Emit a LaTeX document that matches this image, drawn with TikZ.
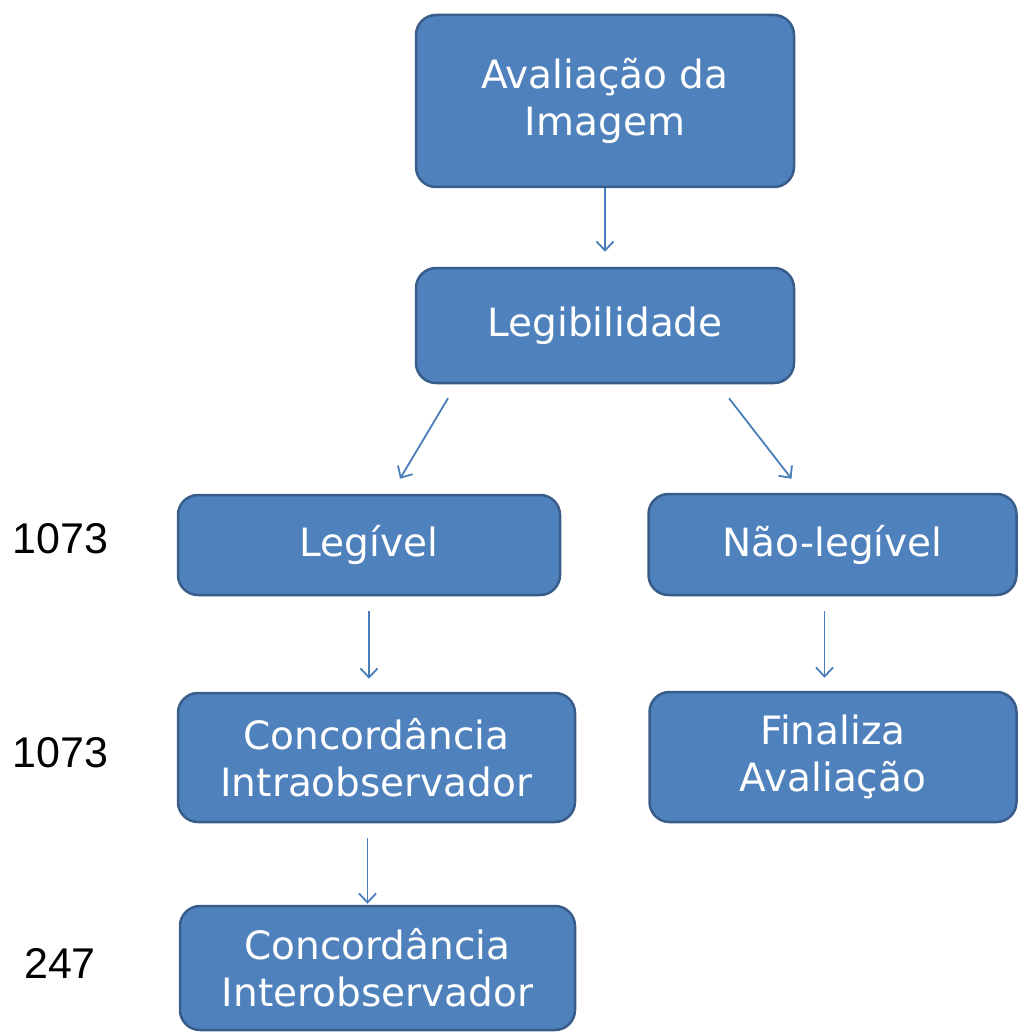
\documentclass[tikz,border=0pt]{standalone}
\usepackage{fontspec}
\setmainfont{Liberation Sans}
\newfontfamily\boxfont{DejaVu Sans}
\newfontfamily\numfont{Liberation Sans}
\usetikzlibrary{arrows.meta,calc}
\definecolor{boxfill}{HTML}{4F81BD}
\definecolor{boxline}{HTML}{385D8A}
\definecolor{arrowcol}{HTML}{4A7EBB}
\tikzset{
  box/.style={draw=boxline, line width=2.5pt, fill=boxfill, rounded corners=20pt,
    text=white, align=center, inner sep=0pt,
    font=\boxfont\fontsize{39}{47}\selectfont},
  num/.style={text=black, inner sep=0pt, font=\numfont\fontsize{43}{50}\selectfont},
  arr/.style={draw=arrowcol, line width=1.8pt,
    -{Straight Barb[length=9pt,width=17pt,line width=1.8pt]}}
}
\begin{document}
\begin{tikzpicture}[x=1pt,y=-1pt]
\useasboundingbox (0,0) rectangle (1019,1032);
% boxes
\node[box, minimum width=378pt, minimum height=172pt] (A) at (605,101) {Avaliação da\\Imagem};
\node[box, minimum width=378pt, minimum height=115pt] (B) at (605,325.5) {Legibilidade};
\node[box, minimum width=382pt, minimum height=100pt] (C) at (369,545) {Legível};
\node[box, minimum width=368pt, minimum height=101pt] (D) at (832.5,544.5) {Não-legível};
\node[box, minimum width=397pt, minimum height=129pt] (E) at (376.5,757.5) {Concordância\\Intraobservador};
\node[box, minimum width=367pt, minimum height=130pt] (F) at (833,757) {Finaliza\\Avaliação};
\node[box, minimum width=395pt, minimum height=124pt] (G) at (377.5,968) {Concordância\\Interobservador};
% numbers
\node[num] (n1) at (60.5,539) {1073};
\node[num] (n2) at (60.5,753) {1073};
\node[num] (n3) at (60,963) {247};
% connectors
\draw[arr, shorten >=15pt] (A.south) -- (B.north);
\coordinate (bc1) at ([xshift=-157pt,yshift=-14pt]B.south);
\coordinate (bc2) at ([xshift=31pt,yshift=15pt]C.north);
\coordinate (bd1) at ([xshift=124pt,yshift=-14pt]B.south);
\coordinate (bd2) at ([xshift=-41pt,yshift=14pt]D.north);
\draw[arr] (bc1) -- (bc2);
\draw[arr] (bd1) -- (bd2);
\draw[arr, shorten <=15pt, shorten >=13pt] (C.south) -- (C.south |- E.north);
\draw[arr, shorten <=15pt, shorten >=13pt] ([xshift=-8pt]D.south) -- ([xshift=-8pt]D.south |- F.north);
\draw[arr, shorten <=15pt, shorten >=1pt] ([xshift=-9pt]E.south) -- ([xshift=-9pt]E.south |- G.north);
\end{tikzpicture}
\end{document}
